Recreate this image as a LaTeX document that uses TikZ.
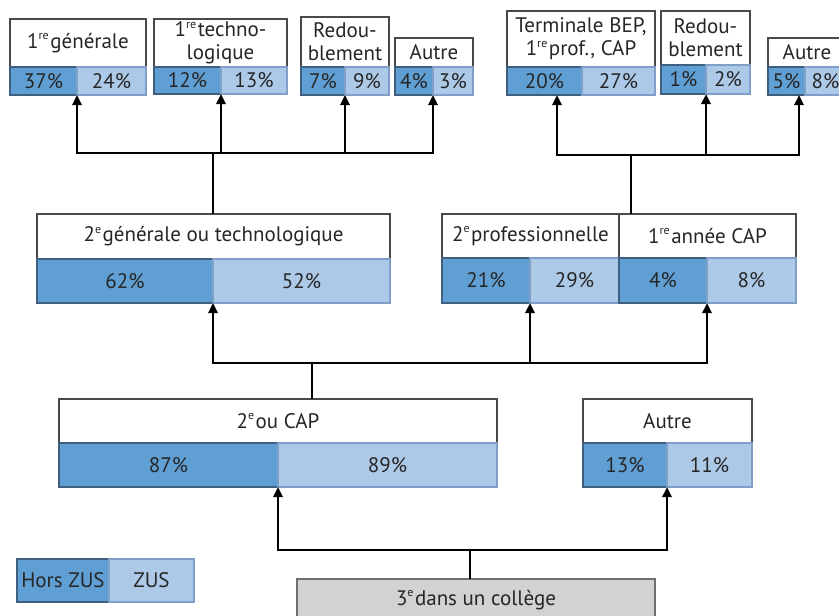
\documentclass[tikz,border=0pt]{standalone}
\usepackage{fontspec}
\setmainfont{PT Sans}
\usetikzlibrary{arrows.meta}
\definecolor{hzc}{HTML}{609FD4}
\definecolor{zsc}{HTML}{ADC9E8}
\definecolor{hzb}{HTML}{3F5F80}
\definecolor{zsb}{HTML}{7F9FC8}
\definecolor{txt}{HTML}{262626}
\definecolor{bord}{HTML}{4A4A4A}
\definecolor{grayc}{HTML}{D1D2D4}
\newcommand\sps[1]{\raisebox{8.5pt}{\fontsize{12}{12}\selectfont #1}\hspace{1.5pt}}
\newcommand\cell[7]{\node[#6, minimum width=#4pt, minimum height=#5pt] (#1) at (#2,#3) {#7};}
\tikzset{
  base/.style={anchor=north west, inner sep=0pt, outer sep=0pt, text=txt, align=center, font=\fontsize{21}{23}\selectfont},
  lab/.style={base, draw=bord, line width=1.1pt, fill=white},
  hz/.style={base, draw=hzb, line width=1.1pt, fill=hzc},
  zs/.style={base, draw=zsb, line width=1.1pt, fill=zsc},
  startbox/.style={base, draw=bord!80, line width=1.1pt, fill=grayc},
  conn/.style={line width=2.4pt, black},
  arr/.style={conn, -{Triangle[width=9pt,length=10pt]}}
}
\begin{document}
\begin{tikzpicture}[x=1pt,y=-1pt]
\clip (0,0) rectangle (839,616);
\fill[white] (0,0) rectangle (839,616);
% top left
\cell{g1lab}{10}{19}{136}{48}{lab}{1\sps{re}générale}
\cell{g1hz}{10}{67}{67}{28}{hz}{37\%}
\cell{g1zs}{77}{67}{69}{28}{zs}{24\%}
\cell{t1lab}{154}{19}{133}{48}{lab}{1\sps{re}techno-\\logique}
\cell{t1hz}{154}{67}{67}{27}{hz}{12\%}
\cell{t1zs}{221}{67}{66}{27}{zs}{13\%}
\cell{r1lab}{301}{17}{88}{50}{lab}{Redou-\\blement}
\cell{r1hz}{301}{67}{44}{28}{hz}{7\%}
\cell{r1zs}{345}{67}{44}{28}{zs}{9\%}
\cell{a1lab}{395}{38}{78}{29}{lab}{Autre}
\cell{a1hz}{395}{67}{38}{28}{hz}{4\%}
\cell{a1zs}{433}{67}{40}{28}{zs}{3\%}
% top right
\cell{tblab}{507}{11}{148}{56}{lab}{Terminale BEP,\\1\sps{re}prof., CAP}
\cell{tbhz}{507}{67}{75}{28}{hz}{20\%}
\cell{tbzs}{582}{67}{73}{28}{zs}{27\%}
\cell{r2lab}{661}{11}{89}{54}{lab}{Redou-\\blement}
\cell{r2hz}{661}{65}{45}{29}{hz}{1\%}
\cell{r2zs}{706}{65}{44}{29}{zs}{2\%}
\cell{a2lab}{768}{38}{78}{29}{lab}{Autre}
\cell{a2hz}{768}{67}{37}{28}{hz}{5\%}
\cell{a2zs}{805}{67}{41}{28}{zs}{8\%}
% middle
\cell{gtlab}{37}{214}{353}{45}{lab}{2\sps{e}générale ou technologique}
\cell{gthz}{37}{259}{176}{44}{hz}{62\%}
\cell{gtzs}{213}{259}{177}{44}{zs}{52\%}
\cell{prlab}{442}{214}{177}{44}{lab}{2\sps{e}professionnelle}
\cell{cplab}{619}{214}{177}{44}{lab}{1\sps{re}année CAP}
\cell{prhz}{442}{258}{88}{45}{hz}{21\%}
\cell{przs}{530}{258}{89}{45}{zs}{29\%}
\cell{cphz}{619}{258}{88}{45}{hz}{4\%}
\cell{cpzs}{707}{258}{89}{45}{zs}{8\%}
% lower
\cell{dclab}{59}{399}{438}{44}{lab}{2\sps{e}ou CAP}
\cell{dchz}{59}{443}{219}{44}{hz}{87\%}
\cell{dczs}{278}{443}{219}{44}{zs}{89\%}
\cell{aulab}{583}{399}{169}{44}{lab}{Autre}
\cell{auhz}{583}{443}{84}{44}{hz}{13\%}
\cell{auzs}{667}{443}{85}{44}{zs}{11\%}
% legend and start
\cell{lghz}{17}{559}{92}{43}{hz}{Hors ZUS}
\cell{lgzs}{109}{559}{85}{43}{zs}{ZUS}
\cell{start}{297}{579}{358}{42}{startbox}{3\sps{e}dans un collège}
% connectors
\coordinate (busA) at (213,153);
\draw[conn] (busA |- gtlab.north) -- (busA);
\draw[arr] (busA) -| (g1hz.south east);
\draw[arr] (busA) -| (t1hz.south east);
\draw[arr] (busA) -| (r1hz.south east);
\draw[arr] (busA) -| (a1hz.south east);
\coordinate (busB) at (631,155);
\draw[conn] (busB |- prlab.north) -- (busB);
\draw[arr] (busB) -| ([xshift=-25pt]tbhz.south east);
\draw[arr] (busB) -| (r2hz.south east);
\draw[arr] (busB) -| ([xshift=-6pt]a2zs.south west);
\coordinate (busC) at (312,363);
\draw[conn] (busC |- dclab.north) -- (busC);
\draw[arr] (busC) -| (gthz.south east);
\draw[arr] (busC) -| (prhz.south east);
\draw[arr] (busC) -| (cphz.south east);
\coordinate (busD) at (470,550);
\draw[conn] (busD |- start.north) -- (busD);
\draw[arr] (busD) -| (dchz.south east);
\draw[arr] (busD) -| (auhz.south east);
\end{tikzpicture}
\end{document}
